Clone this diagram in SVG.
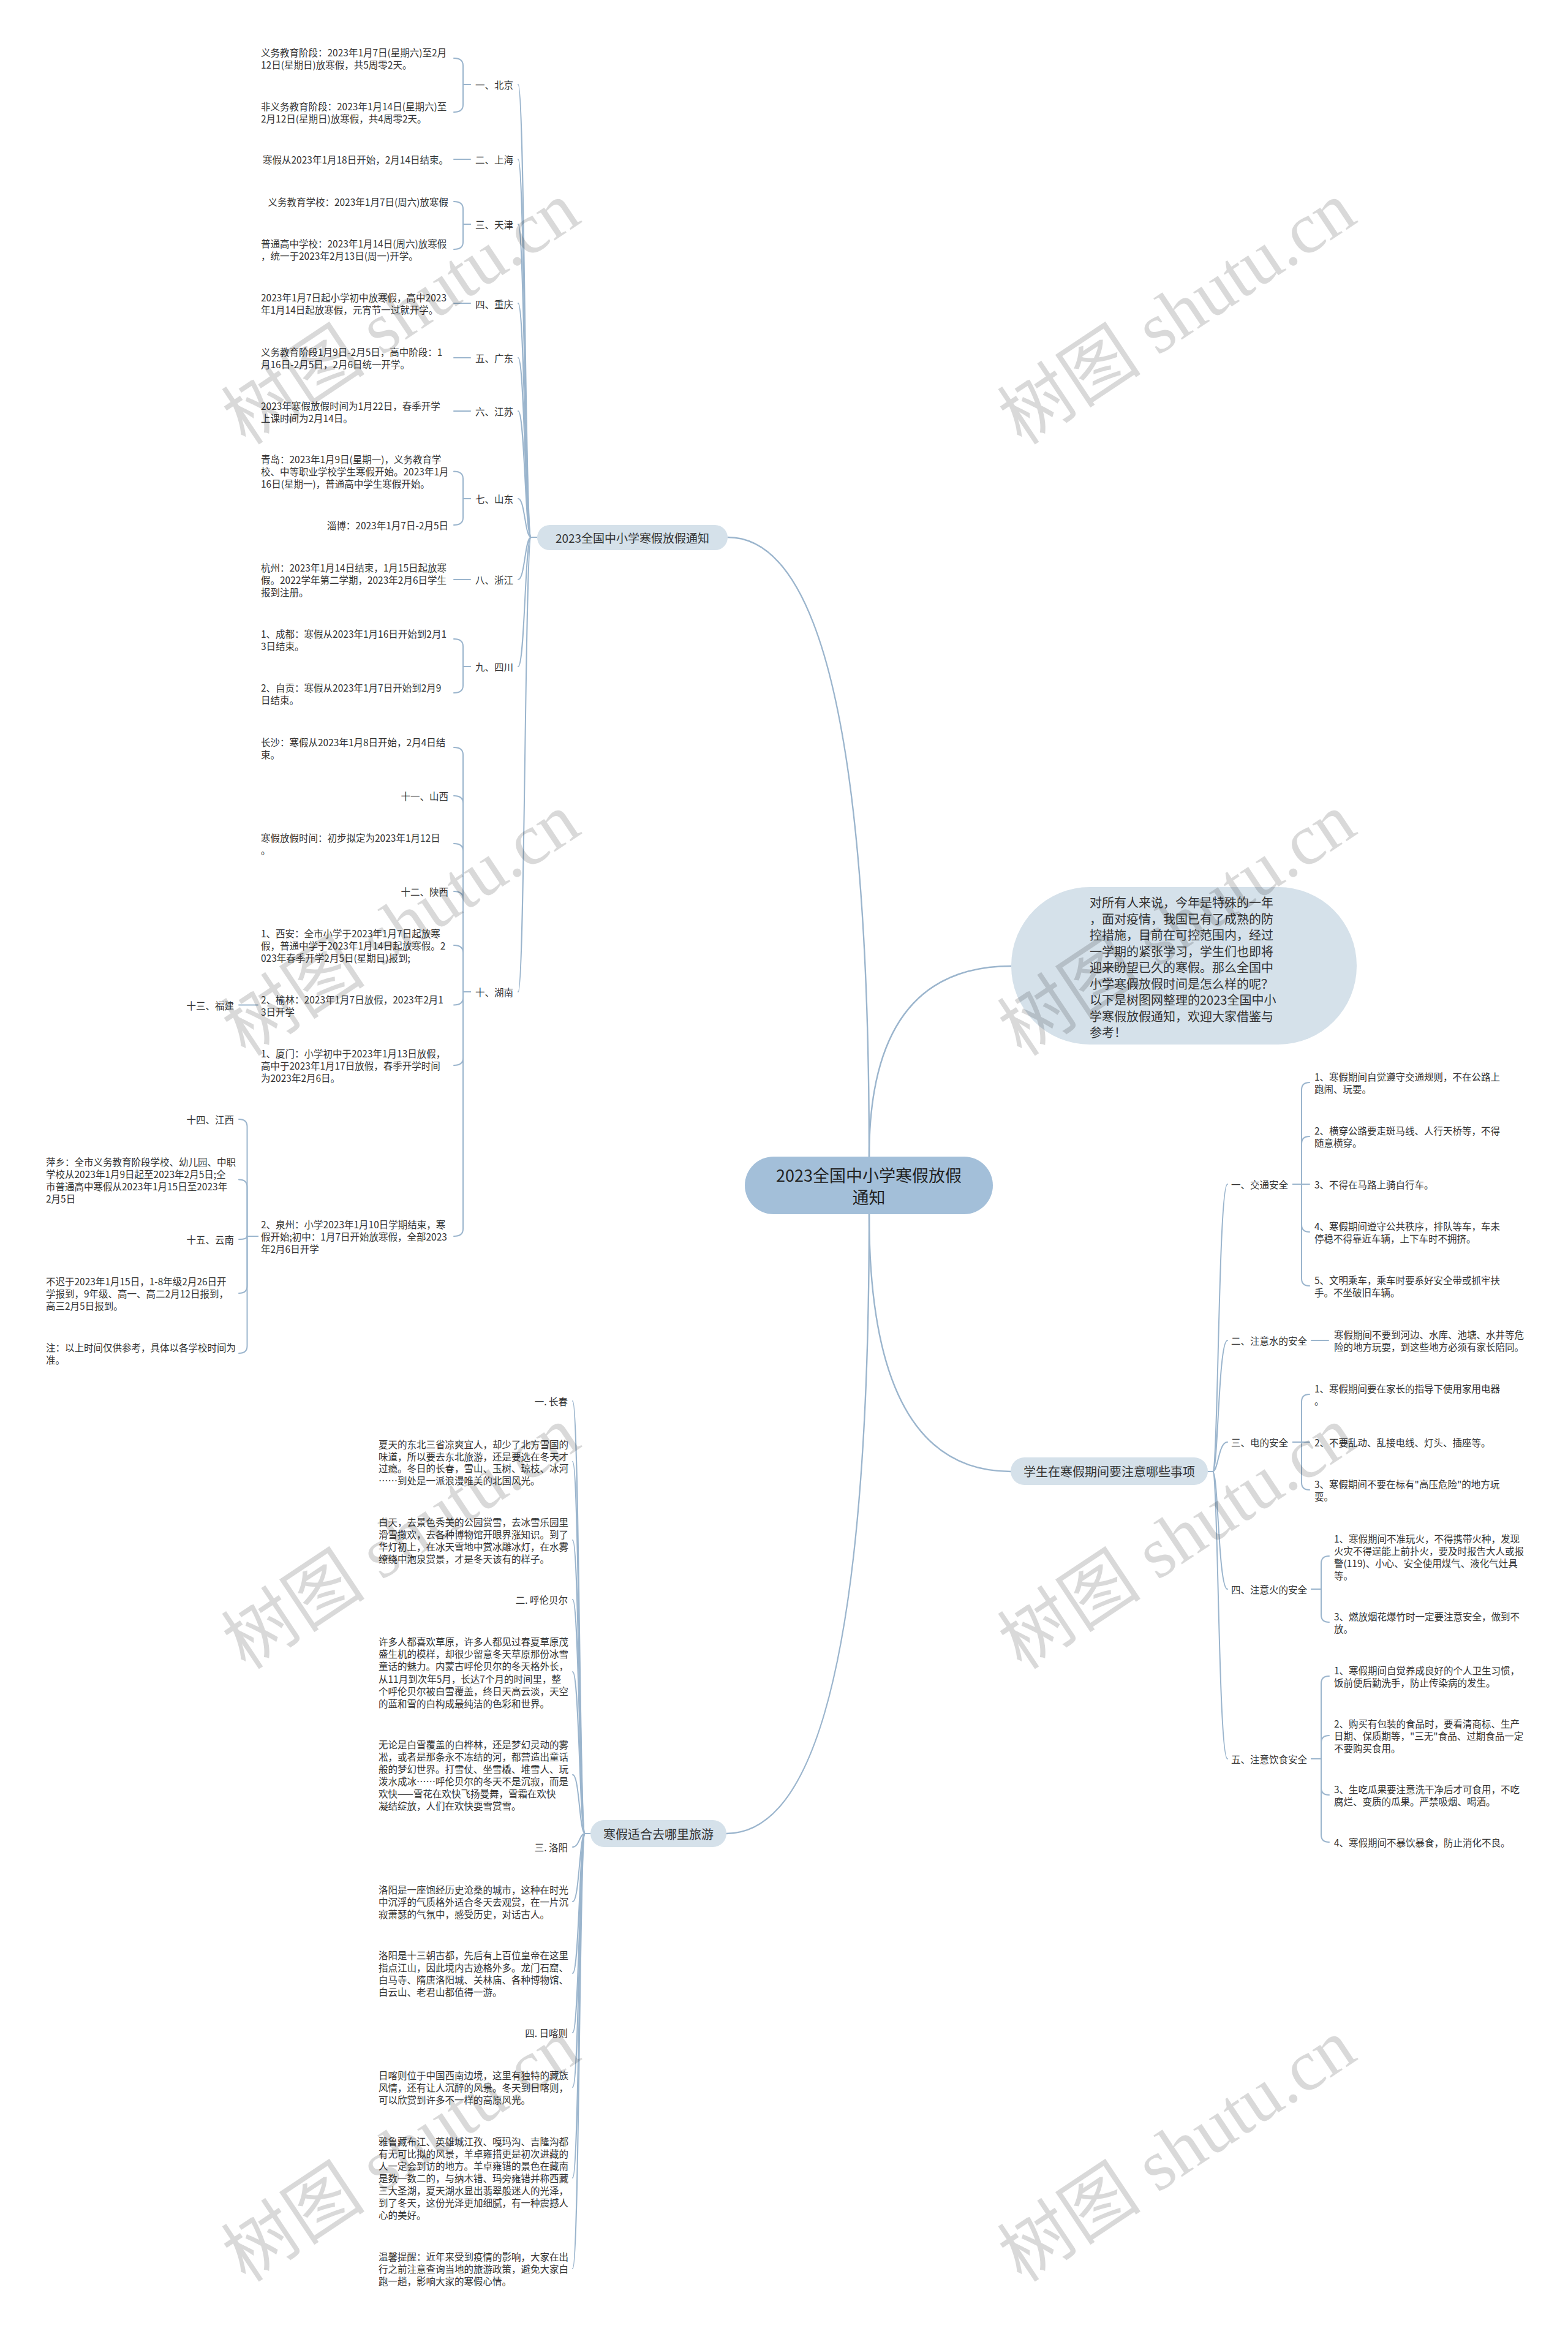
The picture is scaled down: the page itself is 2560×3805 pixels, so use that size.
<svg xmlns="http://www.w3.org/2000/svg" width="2560" height="3805" viewBox="0 0 2560 3805">
<style>
.t{font-family:"Noto Sans CJK SC","Noto Sans",sans-serif;font-size:15.5px;fill:#333;dominant-baseline:central}
.e{text-anchor:end}
.m{text-anchor:middle}
.c{fill:none;stroke:#9bb5cd;stroke-width:2;stroke-linecap:round}
.c1{fill:none;stroke:#9bb5cd;stroke-width:2.4}
.nb{fill:#d5e1ea}
.nr{fill:#a3bfd9}
.wm{font-family:"Liberation Serif","Noto Sans CJK SC",serif;font-size:118px;fill:#000;fill-opacity:0.15;text-anchor:middle;dominant-baseline:central}
</style>
<rect width="2560" height="3805" fill="#ffffff"/>
<g id="connectors">
<path class="c1" d="M1419 1888 Q1419 877 1188 877"/>
<path class="c1" d="M1419 1888 Q1419 1577 1651 1577"/>
<path class="c1" d="M1419 1982 Q1419 2402 1650 2402"/>
<path class="c1" d="M1419 1982 Q1419 2993 1186 2993"/>
<path class="c" d="M877 877 L867 877 C857 877 857 138 846 138"/>
<path class="c" d="M877 877 L867 877 C857 877 857 260 846 260"/>
<path class="c" d="M877 877 L867 877 C857 877 857 366 846 366"/>
<path class="c" d="M877 877 L867 877 C857 877 857 495 846 495"/>
<path class="c" d="M877 877 L867 877 C857 877 857 584 846 584"/>
<path class="c" d="M877 877 L867 877 C857 877 857 671 846 671"/>
<path class="c" d="M877 877 L867 877 C857 877 857 814 846 814"/>
<path class="c" d="M877 877 L867 877 C857 877 857 946 846 946"/>
<path class="c" d="M877 877 L867 877 C857 877 857 1088 846 1088"/>
<path class="c" d="M877 877 L867 877 C857 877 857 1619 846 1619"/>
<path class="c" d="M768 138 L756 138 L756 107 Q756 95 741 95"/>
<path class="c" d="M768 138 L756 138 L756 171 Q756 183 741 183"/>
<path class="c" d="M768 260 L741 260"/>
<path class="c" d="M768 366 L756 366 L756 341 Q756 329 741 329"/>
<path class="c" d="M768 366 L756 366 L756 395 Q756 407 741 407"/>
<path class="c" d="M768 495 L741 495"/>
<path class="c" d="M768 584 L741 584"/>
<path class="c" d="M768 671 L741 671"/>
<path class="c" d="M768 814 L756 814 L756 781.5 Q756 769.5 741 769.5"/>
<path class="c" d="M768 814 L756 814 L756 845 Q756 857 741 857"/>
<path class="c" d="M768 946 L741 946"/>
<path class="c" d="M768 1088 L756 1088 L756 1055 Q756 1043 741 1043"/>
<path class="c" d="M768 1088 L756 1088 L756 1119 Q756 1131 741 1131"/>
<path class="c" d="M768 1619 L756 1619 L756 1232 Q756 1220 741 1220"/>
<path class="c" d="M768 1619 L756 1619 L756 1311 Q756 1299 741 1299"/>
<path class="c" d="M768 1619 L756 1619 L756 1389 Q756 1377 741 1377"/>
<path class="c" d="M768 1619 L756 1619 L756 1467 Q756 1455 741 1455"/>
<path class="c" d="M768 1619 L756 1619 L756 1555 Q756 1543 741 1543"/>
<path class="c" d="M768 1619 L756 1619 L756 1628.5 Q756 1640.5 741 1640.5"/>
<path class="c" d="M768 1619 L756 1619 L756 1727 Q756 1739 741 1739"/>
<path class="c" d="M768 1619 L756 1619 L756 2006 Q756 2018 741 2018"/>
<path class="c" d="M421 1640.5 L390 1640.5"/>
<path class="c" d="M421 2018 L403.5 2018 L403.5 1839 Q403.5 1827 390 1827"/>
<path class="c" d="M421 2018 L403.5 2018 L403.5 1937.5 Q403.5 1925.5 390 1925.5"/>
<path class="c" d="M421 2018 L403.5 2018 Q403.5 2023 390 2023"/>
<path class="c" d="M421 2018 L403.5 2018 L403.5 2099 Q403.5 2111 390 2111"/>
<path class="c" d="M421 2018 L403.5 2018 L403.5 2197 Q403.5 2209 390 2209"/>
<path class="c" d="M1972 2402 L1980 2402 C1989 2402 1989 1933 2004 1933"/>
<path class="c" d="M1972 2402 L1980 2402 C1989 2402 1989 2188 2004 2188"/>
<path class="c" d="M1972 2402 L1980 2402 C1989 2402 1989 2354 2004 2354"/>
<path class="c" d="M1972 2402 L1980 2402 C1989 2402 1989 2594 2004 2594"/>
<path class="c" d="M1972 2402 L1980 2402 C1989 2402 1989 2871 2004 2871"/>
<path class="c" d="M2111 1933 L2125 1933 L2125 1779 Q2125 1767 2138 1767"/>
<path class="c" d="M2111 1933 L2125 1933 L2125 1867 Q2125 1855 2138 1855"/>
<path class="c" d="M2111 1933 L2138 1933"/>
<path class="c" d="M2111 1933 L2125 1933 L2125 1999 Q2125 2011 2138 2011"/>
<path class="c" d="M2111 1933 L2125 1933 L2125 2087 Q2125 2099 2138 2099"/>
<path class="c" d="M2141 2188 L2169 2188"/>
<path class="c" d="M2111 2354 L2125 2354 L2125 2288 Q2125 2276 2138 2276"/>
<path class="c" d="M2111 2354 L2138 2354"/>
<path class="c" d="M2111 2354 L2125 2354 L2125 2420 Q2125 2432 2138 2432"/>
<path class="c" d="M2141 2594 L2157 2594 L2157 2552 Q2157 2540 2170 2540"/>
<path class="c" d="M2141 2594 L2157 2594 L2157 2636 Q2157 2648 2170 2648"/>
<path class="c" d="M2141 2871 L2157 2871 L2157 2748 Q2157 2736 2170 2736"/>
<path class="c" d="M2141 2871 L2157 2871 L2157 2845 Q2157 2833 2170 2833"/>
<path class="c" d="M2141 2871 L2157 2871 L2157 2918 Q2157 2930 2170 2930"/>
<path class="c" d="M2141 2871 L2157 2871 L2157 2995 Q2157 3007 2170 3007"/>
<path class="c" d="M964 2993 L955 2993 C946 2993 946 2287 935 2287"/>
<path class="c" d="M964 2993 L955 2993 C946 2993 946 2386 935 2386"/>
<path class="c" d="M964 2993 L955 2993 C946 2993 946 2514 935 2514"/>
<path class="c" d="M964 2993 L955 2993 C946 2993 946 2611 935 2611"/>
<path class="c" d="M964 2993 L955 2993 C946 2993 946 2729 935 2729"/>
<path class="c" d="M964 2993 L955 2993 C946 2993 946 2897 935 2897"/>
<path class="c" d="M964 2993 L955 2993 C946 2993 946 3015 935 3015"/>
<path class="c" d="M964 2993 L955 2993 C946 2993 946 3104 935 3104"/>
<path class="c" d="M964 2993 L955 2993 C946 2993 946 3221 935 3221"/>
<path class="c" d="M964 2993 L955 2993 C946 2993 946 3318 935 3318"/>
<path class="c" d="M964 2993 L955 2993 C946 2993 946 3407 935 3407"/>
<path class="c" d="M964 2993 L955 2993 C946 2993 946 3555 935 3555"/>
<path class="c" d="M964 2993 L955 2993 C946 2993 946 3703 935 3703"/>
</g>
<g id="n-root"><rect class="nr" x="1216" y="1888" width="405" height="94" rx="47"/><text class="t m" x="1418.5" y="1917" style="font-size:27px;fill:#222"><tspan x="1418.5">2023全国中小学寒假放假</tspan><tspan x="1418.5" dy="36">通知</tspan></text></g>
<g id="n-b1"><rect class="nb" x="877" y="857" width="311" height="41" rx="20.5"/><text class="t m" x="1032.5" y="877.5" style="font-size:19px">2023全国中小学寒假放假通知</text></g>
<g id="n-intro"><rect class="nb" x="1651" y="1448" width="564" height="257" rx="128"/><text class="t" x="1779" y="1472" style="font-size:20px"><tspan x="1779">对所有人来说，今年是特殊的一年</tspan><tspan x="1779" dy="26.5">，面对疫情，我国已有了成熟的防</tspan><tspan x="1779" dy="26.5">控措施，目前在可控范围内，经过</tspan><tspan x="1779" dy="26.5">一学期的紧张学习，学生们也即将</tspan><tspan x="1779" dy="26.5">迎来盼望已久的寒假。那么全国中</tspan><tspan x="1779" dy="26.5">小学寒假放假时间是怎么样的呢？</tspan><tspan x="1779" dy="26.5">以下是树图网整理的2023全国中小</tspan><tspan x="1779" dy="26.5">学寒假放假通知，欢迎大家借鉴与</tspan><tspan x="1779" dy="26.5">参考！</tspan></text></g>
<g id="n-b3"><rect class="nb" x="1650" y="2379" width="322" height="45" rx="22.5"/><text class="t m" x="1811" y="2401.5" style="font-size:20px">学生在寒假期间要注意哪些事项</text></g>
<g id="n-b4"><rect class="nb" x="964" y="2971" width="222" height="44" rx="22"/><text class="t m" x="1075" y="2993" style="font-size:20px">寒假适合去哪里旅游</text></g>
<g id="n-bj"><text class="t e" x="838" y="138">一、北京</text></g>
<g id="n-bj1"><text class="t" x="426" y="85"><tspan x="426">义务教育阶段：2023年1月7日(星期六)至2月</tspan><tspan x="426" dy="20">12日(星期日)放寒假，共5周零2天。</tspan></text></g>
<g id="n-bj2"><text class="t" x="426" y="173"><tspan x="426">非义务教育阶段：2023年1月14日(星期六)至</tspan><tspan x="426" dy="20">2月12日(星期日)放寒假，共4周零2天。</tspan></text></g>
<g id="n-sh"><text class="t e" x="838" y="260">二、上海</text></g>
<g id="n-sh1"><text class="t e" x="732" y="260">寒假从2023年1月18日开始，2月14日结束。</text></g>
<g id="n-tj"><text class="t e" x="838" y="366">三、天津</text></g>
<g id="n-tj1"><text class="t e" x="732" y="329">义务教育学校：2023年1月7日(周六)放寒假</text></g>
<g id="n-tj2"><text class="t" x="426" y="397"><tspan x="426">普通高中学校：2023年1月14日(周六)放寒假</tspan><tspan x="426" dy="20">，统一于2023年2月13日(周一)开学。</tspan></text></g>
<g id="n-cq"><text class="t e" x="838" y="496">四、重庆</text></g>
<g id="n-cq1"><text class="t" x="426" y="485"><tspan x="426">2023年1月7日起小学初中放寒假，高中2023</tspan><tspan x="426" dy="20">年1月14日起放寒假，元宵节一过就开学。</tspan></text></g>
<g id="n-gd"><text class="t e" x="838" y="584">五、广东</text></g>
<g id="n-gd1"><text class="t" x="426" y="574"><tspan x="426">义务教育阶段1月9日-2月5日，高中阶段：1</tspan><tspan x="426" dy="20">月16日-2月5日，2月6日统一开学。</tspan></text></g>
<g id="n-js"><text class="t e" x="838" y="671">六、江苏</text></g>
<g id="n-js1"><text class="t" x="426" y="661.5"><tspan x="426">2023年寒假放假时间为1月22日，春季开学</tspan><tspan x="426" dy="20">上课时间为2月14日。</tspan></text></g>
<g id="n-sd"><text class="t e" x="838" y="814">七、山东</text></g>
<g id="n-sd1"><text class="t" x="426" y="749"><tspan x="426">青岛：2023年1月9日(星期一)，义务教育学</tspan><tspan x="426" dy="20">校、中等职业学校学生寒假开始。2023年1月</tspan><tspan x="426" dy="20">16日(星期一)，普通高中学生寒假开始。</tspan></text></g>
<g id="n-sd2"><text class="t e" x="732" y="857">淄博：2023年1月7日-2月5日</text></g>
<g id="n-zj"><text class="t e" x="838" y="946">八、浙江</text></g>
<g id="n-zj1"><text class="t" x="426" y="926"><tspan x="426">杭州：2023年1月14日结束，1月15日起放寒</tspan><tspan x="426" dy="20">假。2022学年第二学期，2023年2月6日学生</tspan><tspan x="426" dy="20">报到注册。</tspan></text></g>
<g id="n-sc"><text class="t e" x="838" y="1088">九、四川</text></g>
<g id="n-sc1"><text class="t" x="426" y="1034"><tspan x="426">1、成都：寒假从2023年1月16日开始到2月1</tspan><tspan x="426" dy="20">3日结束。</tspan></text></g>
<g id="n-sc2"><text class="t" x="426" y="1122"><tspan x="426">2、自贡：寒假从2023年1月7日开始到2月9</tspan><tspan x="426" dy="20">日结束。</tspan></text></g>
<g id="n-hn"><text class="t e" x="838" y="1619">十、湖南</text></g>
<g id="n-hn1"><text class="t" x="426" y="1211"><tspan x="426">长沙：寒假从2023年1月8日开始，2月4日结</tspan><tspan x="426" dy="20">束。</tspan></text></g>
<g id="n-sx"><text class="t e" x="732" y="1299">十一、山西</text></g>
<g id="n-sx1"><text class="t" x="426" y="1367"><tspan x="426">寒假放假时间：初步拟定为2023年1月12日</tspan><tspan x="426" dy="20">。</tspan></text></g>
<g id="n-snx"><text class="t e" x="732" y="1455">十二、陕西</text></g>
<g id="n-xa"><text class="t" x="426" y="1523"><tspan x="426">1、西安：全市小学于2023年1月7日起放寒</tspan><tspan x="426" dy="20">假，普通中学于2023年1月14日起放寒假。2</tspan><tspan x="426" dy="20">023年春季开学2月5日(星期日)报到;</tspan></text></g>
<g id="n-yl"><text class="t" x="426" y="1631"><tspan x="426">2、榆林：2023年1月7日放假，2023年2月1</tspan><tspan x="426" dy="20">3日开学</tspan></text></g>
<g id="n-fj"><text class="t e" x="382" y="1640.5">十三、福建</text></g>
<g id="n-xm"><text class="t" x="426" y="1719"><tspan x="426">1、厦门：小学初中于2023年1月13日放假，</tspan><tspan x="426" dy="20">高中于2023年1月17日放假，春季开学时间</tspan><tspan x="426" dy="20">为2023年2月6日。</tspan></text></g>
<g id="n-qz"><text class="t" x="426" y="1998"><tspan x="426">2、泉州：小学2023年1月10日学期结束，寒</tspan><tspan x="426" dy="20">假开始;初中：1月7日开始放寒假，全部2023</tspan><tspan x="426" dy="20">年2月6日开学</tspan></text></g>
<g id="n-jx"><text class="t e" x="382" y="1827">十四、江西</text></g>
<g id="n-px"><text class="t" x="75" y="1896"><tspan x="75">萍乡：全市义务教育阶段学校、幼儿园、中职</tspan><tspan x="75" dy="20">学校从2023年1月9日起至2023年2月5日;全</tspan><tspan x="75" dy="20">市普通高中寒假从2023年1月15日至2023年</tspan><tspan x="75" dy="20">2月5日</tspan></text></g>
<g id="n-yn"><text class="t e" x="382" y="2023">十五、云南</text></g>
<g id="n-yn1"><text class="t" x="75" y="2091"><tspan x="75">不迟于2023年1月15日，1-8年级2月26日开</tspan><tspan x="75" dy="20">学报到，9年级、高一、高二2月12日报到，</tspan><tspan x="75" dy="20">高三2月5日报到。</tspan></text></g>
<g id="n-note"><text class="t" x="75" y="2199"><tspan x="75">注：以上时间仅供参考，具体以各学校时间为</tspan><tspan x="75" dy="20">准。</tspan></text></g>
<g id="n-jt"><text class="t" x="2010" y="1933">一、交通安全</text></g>
<g id="n-jt1"><text class="t" x="2146" y="1757"><tspan x="2146">1、寒假期间自觉遵守交通规则，不在公路上</tspan><tspan x="2146" dy="20">跑闹、玩耍。</tspan></text></g>
<g id="n-jt2"><text class="t" x="2146" y="1845"><tspan x="2146">2、横穿公路要走斑马线、人行天桥等，不得</tspan><tspan x="2146" dy="20">随意横穿。</tspan></text></g>
<g id="n-jt3"><text class="t" x="2146" y="1933">3、不得在马路上骑自行车。</text></g>
<g id="n-jt4"><text class="t" x="2146" y="2001"><tspan x="2146">4、寒假期间遵守公共秩序，排队等车，车未</tspan><tspan x="2146" dy="20">停稳不得靠近车辆，上下车时不拥挤。</tspan></text></g>
<g id="n-jt5"><text class="t" x="2146" y="2089"><tspan x="2146">5、文明乘车，乘车时要系好安全带或抓牢扶</tspan><tspan x="2146" dy="20">手。不坐破旧车辆。</tspan></text></g>
<g id="n-water"><text class="t" x="2010" y="2188">二、注意水的安全</text></g>
<g id="n-water1"><text class="t" x="2178" y="2178"><tspan x="2178">寒假期间不要到河边、水库、池塘、水井等危</tspan><tspan x="2178" dy="20">险的地方玩耍，到这些地方必须有家长陪同。</tspan></text></g>
<g id="n-elec"><text class="t" x="2010" y="2354">三、电的安全</text></g>
<g id="n-elec1"><text class="t" x="2146" y="2266"><tspan x="2146">1、寒假期间要在家长的指导下使用家用电器</tspan><tspan x="2146" dy="20">。</tspan></text></g>
<g id="n-elec2"><text class="t" x="2146" y="2354">2、不要乱动、乱接电线、灯头、插座等。</text></g>
<g id="n-elec3"><text class="t" x="2146" y="2422"><tspan x="2146">3、寒假期间不要在标有"高压危险"的地方玩</tspan><tspan x="2146" dy="20">耍。</tspan></text></g>
<g id="n-fire"><text class="t" x="2010" y="2594">四、注意火的安全</text></g>
<g id="n-fire1"><text class="t" x="2178" y="2511"><tspan x="2178">1、寒假期间不准玩火，不得携带火种，发现</tspan><tspan x="2178" dy="20">火灾不得逞能上前扑火，要及时报告大人或报</tspan><tspan x="2178" dy="20">警(119)、小心、安全使用煤气、液化气灶具</tspan><tspan x="2178" dy="20">等。</tspan></text></g>
<g id="n-fire2"><text class="t" x="2178" y="2638"><tspan x="2178">3、燃放烟花爆竹时一定要注意安全，做到不</tspan><tspan x="2178" dy="20">放。</tspan></text></g>
<g id="n-food"><text class="t" x="2010" y="2871">五、注意饮食安全</text></g>
<g id="n-food1"><text class="t" x="2178" y="2726"><tspan x="2178">1、寒假期间自觉养成良好的个人卫生习惯，</tspan><tspan x="2178" dy="20">饭前便后勤洗手，防止传染病的发生。</tspan></text></g>
<g id="n-food2"><text class="t" x="2178" y="2813"><tspan x="2178">2、购买有包装的食品时，要看清商标、生产</tspan><tspan x="2178" dy="20">日期、保质期等，"三无"食品、过期食品一定</tspan><tspan x="2178" dy="20">不要购买食用。</tspan></text></g>
<g id="n-food3"><text class="t" x="2178" y="2920"><tspan x="2178">3、生吃瓜果要注意洗干净后才可食用，不吃</tspan><tspan x="2178" dy="20">腐烂、变质的瓜果。严禁吸烟、喝酒。</tspan></text></g>
<g id="n-food4"><text class="t" x="2178" y="3007">4、寒假期间不暴饮暴食，防止消化不良。</text></g>
<g id="n-cc"><text class="t e" x="927" y="2287">一. 长春</text></g>
<g id="n-cc1"><text class="t" x="618" y="2357"><tspan x="618">夏天的东北三省凉爽宜人，却少了北方雪国的</tspan><tspan x="618" dy="19.5">味道，所以要去东北旅游，还是要选在冬天才</tspan><tspan x="618" dy="19.5">过瘾。冬日的长春，雪山、玉树、琼枝、冰河</tspan><tspan x="618" dy="19.5">……到处是一派浪漫唯美的北国风光。</tspan></text></g>
<g id="n-cc2"><text class="t" x="618" y="2484"><tspan x="618">白天，去景色秀美的公园赏雪，去冰雪乐园里</tspan><tspan x="618" dy="20">滑雪撒欢，去各种博物馆开眼界涨知识。到了</tspan><tspan x="618" dy="20">华灯初上，在冰天雪地中赏冰雕冰灯，在水雾</tspan><tspan x="618" dy="20">缭绕中泡泉赏景，才是冬天该有的样子。</tspan></text></g>
<g id="n-hlbe"><text class="t e" x="927" y="2611">二. 呼伦贝尔</text></g>
<g id="n-hlbe1"><text class="t" x="618" y="2679"><tspan x="618">许多人都喜欢草原，许多人都见过春夏草原茂</tspan><tspan x="618" dy="20.2">盛生机的模样，却很少留意冬天草原那份冰雪</tspan><tspan x="618" dy="20.2">童话的魅力。内蒙古呼伦贝尔的冬天格外长，</tspan><tspan x="618" dy="20.2">从11月到次年5月，长达7个月的时间里，整</tspan><tspan x="618" dy="20.2">个呼伦贝尔被白雪覆盖，终日天高云淡，天空</tspan><tspan x="618" dy="20.2">的蓝和雪的白构成最纯洁的色彩和世界。</tspan></text></g>
<g id="n-hlbe2"><text class="t" x="618" y="2847"><tspan x="618">无论是白雪覆盖的白桦林，还是梦幻灵动的雾</tspan><tspan x="618" dy="20">凇，或者是那条永不冻结的河，都营造出童话</tspan><tspan x="618" dy="20">般的梦幻世界。打雪仗、坐雪橇、堆雪人、玩</tspan><tspan x="618" dy="20">泼水成冰……呼伦贝尔的冬天不是沉寂，而是</tspan><tspan x="618" dy="20">欢快——雪花在欢快飞扬曼舞，雪霜在欢快</tspan><tspan x="618" dy="20">凝结绽放，人们在欢快耍雪赏雪。</tspan></text></g>
<g id="n-ly"><text class="t e" x="927" y="3015">三. 洛阳</text></g>
<g id="n-ly1"><text class="t" x="618" y="3084"><tspan x="618">洛阳是一座饱经历史沧桑的城市，这种在时光</tspan><tspan x="618" dy="20">中沉浮的气质格外适合冬天去观赏，在一片沉</tspan><tspan x="618" dy="20">寂萧瑟的气氛中，感受历史，对话古人。</tspan></text></g>
<g id="n-ly2"><text class="t" x="618" y="3191"><tspan x="618">洛阳是十三朝古都，先后有上百位皇帝在这里</tspan><tspan x="618" dy="20">指点江山，因此境内古迹格外多。龙门石窟、</tspan><tspan x="618" dy="20">白马寺、隋唐洛阳城、关林庙、各种博物馆、</tspan><tspan x="618" dy="20">白云山、老君山都值得一游。</tspan></text></g>
<g id="n-rkz"><text class="t e" x="927" y="3318">四. 日喀则</text></g>
<g id="n-rkz1"><text class="t" x="618" y="3387"><tspan x="618">日喀则位于中国西南边境，这里有独特的藏族</tspan><tspan x="618" dy="20">风情，还有让人沉醉的风景。冬天到日喀则，</tspan><tspan x="618" dy="20">可以欣赏到许多不一样的高原风光。</tspan></text></g>
<g id="n-rkz2"><text class="t" x="618" y="3495"><tspan x="618">雅鲁藏布江、英雄城江孜、嘎玛沟、吉隆沟都</tspan><tspan x="618" dy="20">有无可比拟的风景，羊卓雍措更是初次进藏的</tspan><tspan x="618" dy="20">人一定会到访的地方。羊卓雍错的景色在藏南</tspan><tspan x="618" dy="20">是数一数二的，与纳木错、玛旁雍错并称西藏</tspan><tspan x="618" dy="20">三大圣湖，夏天湖水显出翡翠般迷人的光泽，</tspan><tspan x="618" dy="20">到了冬天，这份光泽更加细腻，有一种震撼人</tspan><tspan x="618" dy="20">心的美好。</tspan></text></g>
<g id="n-tip"><text class="t" x="618" y="3683"><tspan x="618">温馨提醒：近年来受到疫情的影响，大家在出</tspan><tspan x="618" dy="20">行之前注意查询当地的旅游政策，避免大家白</tspan><tspan x="618" dy="20">跑一趟，影响大家的寒假心情。</tspan></text></g>
<g id="watermark">
<text class="wm" transform="translate(655 512) rotate(-33.7)">树图 shutu.cn</text>
<text class="wm" transform="translate(1922 512) rotate(-33.7)">树图 shutu.cn</text>
<text class="wm" transform="translate(655 1510) rotate(-33.7)">树图 shutu.cn</text>
<text class="wm" transform="translate(1922 1510) rotate(-33.7)">树图 shutu.cn</text>
<text class="wm" transform="translate(655 2511) rotate(-33.7)">树图 shutu.cn</text>
<text class="wm" transform="translate(1922 2511) rotate(-33.7)">树图 shutu.cn</text>
<text class="wm" transform="translate(655 3511) rotate(-33.7)">树图 shutu.cn</text>
<text class="wm" transform="translate(1922 3511) rotate(-33.7)">树图 shutu.cn</text>
</g>
</svg>
